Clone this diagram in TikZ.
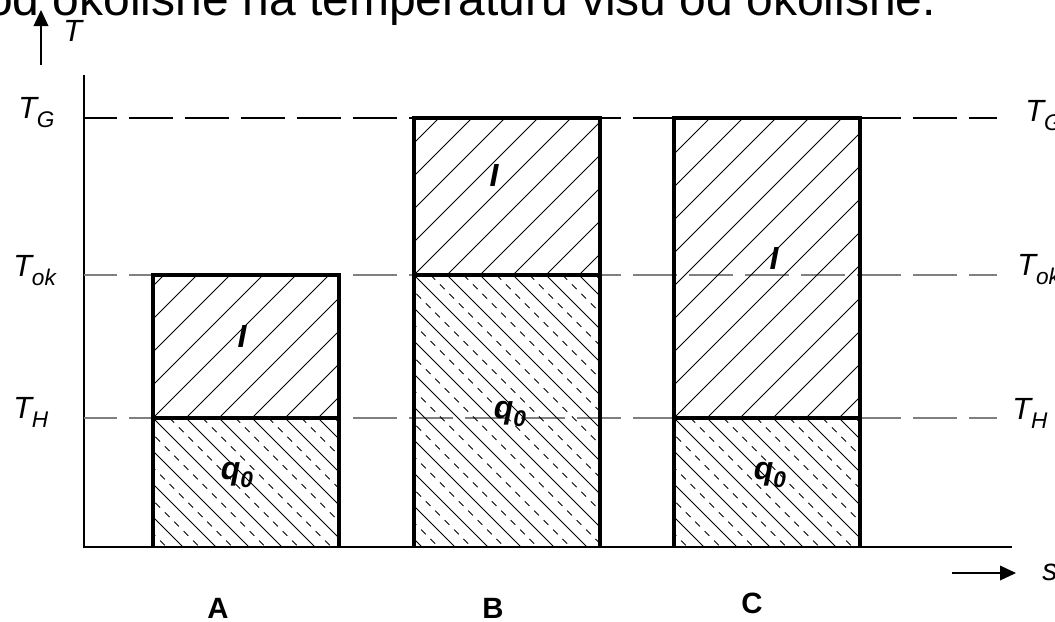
\documentclass[tikz,border=0pt]{standalone}
\usepackage{fontspec}
\setmainfont{Liberation Sans}
\usetikzlibrary{arrows.meta}
\tikzstyle{bar}=[line width=2.6pt, line join=miter]
\tikzstyle{level}=[dash pattern=on 33pt off 9pt, dash phase=8pt, line width=0.8pt]
\tikzstyle{hatch}=[line width=0.6pt]
\tikzstyle{hatchdash}=[line width=0.6pt, dash pattern=on 5pt off 5pt]
\tikzstyle{lbl}=[inner sep=0pt, font=\fontsize{23}{23}\selectfont\itshape]
\tikzstyle{part}=[inner sep=0pt, font=\fontsize{24}{24}\selectfont\bfseries\itshape]
\tikzstyle{case}=[inner sep=0pt, font=\fontsize{22}{22}\selectfont\bfseries]
\tikzstyle{axisarrow}=[line width=1pt, -{Triangle[length=12pt,width=11pt]}]
% T with a lowered index
\newcommand{\Tsub}[1]{T\raisebox{-0.3em}{\fontsize{17}{17}\selectfont #1}}
% hatching / and \ inside a box (x1,y1)-(x2,y2)
\newcommand{\hatchNE}[4]{\begin{scope}
  \clip (#1,#2) rectangle (#3,#4);
  \foreach \k in {-462,-429,...,198} \draw[hatch] (#1+\k,#4) -- ++(600,-600);
  \end{scope}}
\newcommand{\hatchSE}[4]{\begin{scope}
  \clip (#1,#2) rectangle (#3,#4);
  \foreach \k in {-462,-429,...,198}{
    \draw[hatch] (#1+\k,#2) -- ++(600,600);
    \draw[hatchdash] (#1+\k+16.5,#2) -- ++(600,600);
  }
  \end{scope}}

\begin{document}
\begin{tikzpicture}[x=0.75pt,y=-0.75pt]
  \useasboundingbox (0,0) rectangle (1055,621);
  \clip (0,0) rectangle (1055,621);
  % heading line, cut by the page edge
  \node[anchor=base west, inner sep=0pt, font=\fontsize{36}{36}\selectfont] (head) at (-14,15)
    {od okolišne na temperaturu višu od okolišne.};
  % axes
  \coordinate (orig) at (84,547);
  \coordinate (ytop) at (84,75);
  \coordinate (xend) at (1012,547);
  \draw[line width=0.9pt] (ytop) -- (orig) -- (xend);
  \coordinate (tfrom) at (41,65);
  \coordinate (tto) at (41,10);
  \draw[axisarrow] (tfrom) -- (tto);
  \node[lbl, anchor=base west] (tlab) at (63,41) {T};
  \coordinate (sfrom) at (952,573);
  \coordinate (sto) at (1016,573);
  \draw[axisarrow] (sfrom) -- (sto);
  \node[lbl, anchor=base west] (slab) at (1042,580) {s};
  % temperature levels
  \foreach \y/\c in {118/black,275/gray,418/gray}
    \draw[level,\c] (84,\y) -- (997,\y);
  \node[lbl, anchor=base west] (TGl) at (18,118) {\Tsub{G}};
  \node[lbl, anchor=base west] (Tokl) at (13,276) {\Tsub{ok}};
  \node[lbl, anchor=base west] (THl) at (13,418) {\Tsub{H}};
  \node[lbl, anchor=base west] (TGr) at (1025,121) {\Tsub{G}};
  \node[lbl, anchor=base west] (Tokr) at (1017,275) {\Tsub{ok}};
  \node[lbl, anchor=base west] (THr) at (1012,419) {\Tsub{H}};
  % bars A, B, C
  \foreach \xa/\xb/\ya/\ym/\xi/\yi/\xq/\yq/\xc/\yc/\lab in
    {153/339/275/418/242/336/237/475/218/618/A,
     414/600/118/275/494/175/510/414/493/618/B,
     674/860/118/418/774/258/770/475/752/613/C}{
    \hatchNE{\xa}{\ya}{\xb}{\ym}
    \hatchSE{\xa}{\ym}{\xb}{547}
    \draw[bar] (\xa,547) -- (\xa,\ya) -- (\xb,\ya) -- (\xb,547);
    \draw[bar] (\xa,\ym) -- (\xb,\ym);
    \node[part] (I\lab) at (\xi,\yi) {I};
    \node[part] (q\lab) at (\xq,\yq) {q\raisebox{-0.25em}{\fontsize{17}{17}\selectfont 0}};
    \node[case, anchor=base] (case\lab) at (\xc,\yc) {\lab};
  }
\end{tikzpicture}
\end{document}
